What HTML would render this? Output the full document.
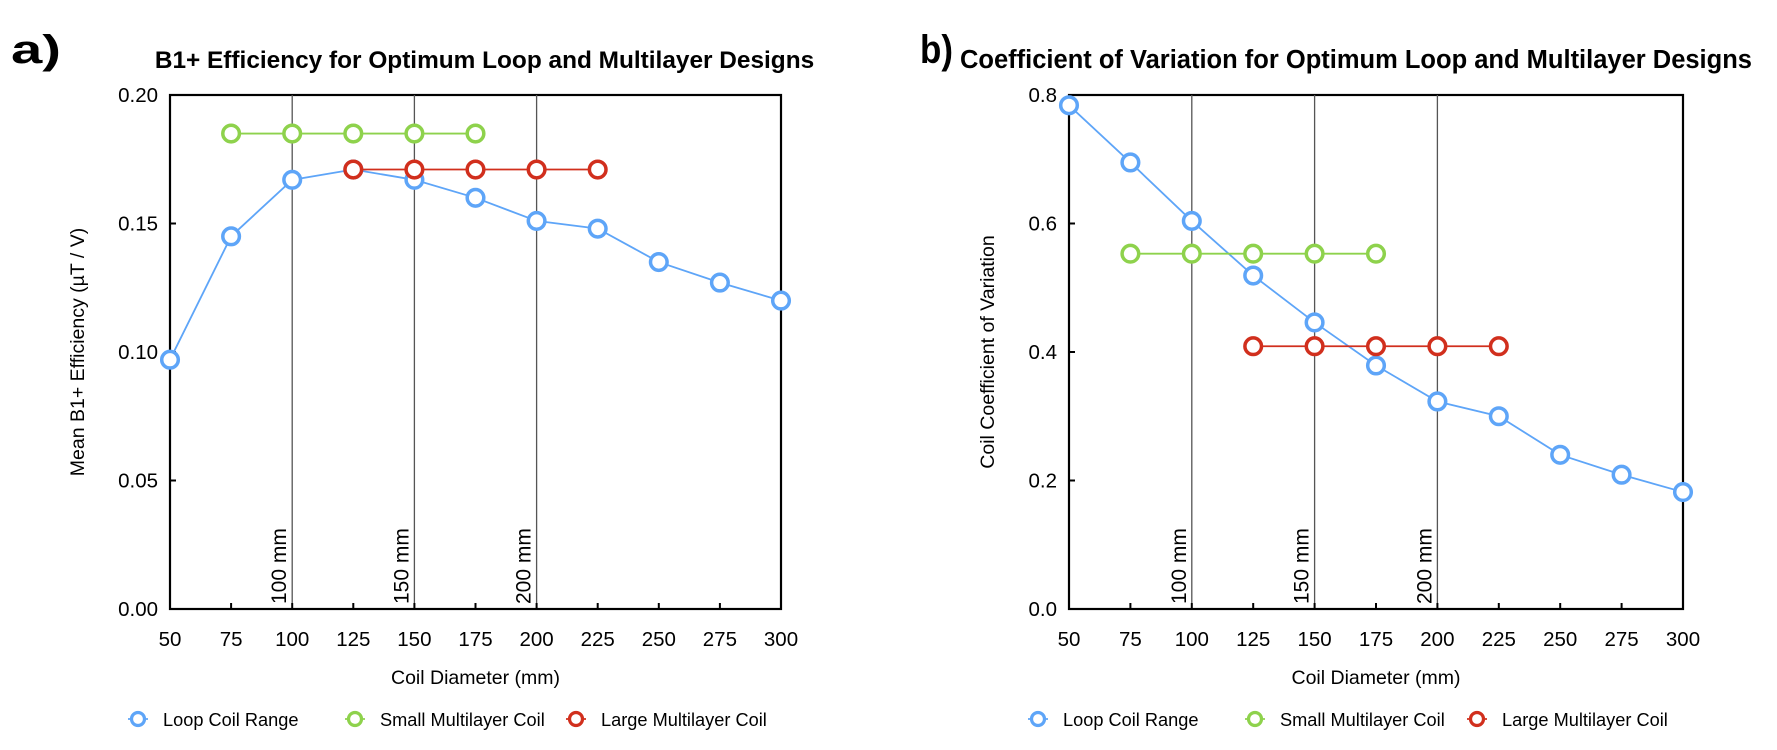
<!DOCTYPE html>
<html><head><meta charset="utf-8"><style>
html,body{margin:0;padding:0;background:#fff;}
svg{display:block;font-family:"Liberation Sans",Arial,sans-serif;}
</style></head><body>
<svg id="svg" width="1777" height="750" viewBox="0 0 1777 750" xmlns="http://www.w3.org/2000/svg">
<text x="11" y="63" font-size="40" font-weight="bold" textLength="50" lengthAdjust="spacingAndGlyphs">a)</text>
<text x="920" y="63" font-size="40" font-weight="bold" textLength="33" lengthAdjust="spacingAndGlyphs">b)</text>
</svg>
<script>
const xCats = [50,75,100,125,150,175,200,225,250,275,300];
const effLoop = [0.097,0.145,0.167,0.171,0.167,0.160,0.151,0.148,0.135,0.127,0.120];
const smallX = [75,100,125,150,175];
const effSmall = [0.185,0.185,0.185,0.185,0.185];
const largeX = [125,150,175,200,225];
const effLarge = [0.171,0.171,0.171,0.171,0.171];
const cvLoop = [0.784,0.695,0.604,0.519,0.446,0.379,0.323,0.300,0.240,0.209,0.182];
const cvSmall = [0.553,0.553,0.553,0.553,0.553];
const cvLarge = [0.409,0.409,0.409,0.409,0.409];
const yTicksA = [0,0.05,0.10,0.15,0.20];
const yTicksB = [0,0.2,0.4,0.6,0.8];
const refLines = [100,150,200];

const NS="http://www.w3.org/2000/svg";
const svg=document.getElementById('svg');
function mk(tag,attrs,parent){const e=document.createElementNS(NS,tag);for(const k in attrs)e.setAttribute(k,attrs[k]);(parent||svg).appendChild(e);return e;}

function chart(p){
  const g=mk('g',{});
  
  
  const L=p.x0,R=p.x1,T=95,B=609;
  const xs=v=>L+(v-50)/250*(R-L);
  const ys=v=>B-(v/p.ymax)*(B-T);
  const t=mk('text',{x:(L+R)/2+p.tdx,y:68,'font-size':p.tfs,'font-weight':'bold','text-anchor':'middle'},g);
  t.textContent=p.title;
  
  
  const fr=mk('rect',{x:L,y:T,width:R-L,height:B-T,fill:'none',stroke:'#000','stroke-width':2.2},g);
  
  
  refLines.forEach(r=>{
    const x=xs(r);
    const l=mk('line',{x1:x,y1:T,x2:x,y2:B,stroke:'#555','stroke-width':1.3},g);
    
    
    const lt=mk('text',{x:0,y:0,'font-size':21,transform:`translate(${x-6},${B-5}) rotate(-90)`},g);
    lt.textContent=r+' mm';
    
    
  });
  xCats.forEach(c=>{
    const x=xs(c);
    mk('line',{x1:x,y1:B,x2:x,y2:B-6,stroke:'#000','stroke-width':2},g);
    const tl=mk('text',{x:x,y:646,'font-size':20.5,'text-anchor':'middle'},g);
    tl.textContent=c;
    
    
  });
  p.yticks.forEach(v=>{
    const y=ys(v);
    mk('line',{x1:L,y1:y,x2:L+6,y2:y,stroke:'#000','stroke-width':2},g);
    const tl=mk('text',{x:L-12,y:y+7,'font-size':20.5,'text-anchor':'end'},g);
    tl.textContent=v.toFixed(p.dec);
    
    
  });
  const xt=mk('text',{x:(L+R)/2,y:684,'font-size':19.5,'text-anchor':'middle'},g);
  xt.textContent='Coil Diameter (mm)';
  
  
  const yt=mk('text',{x:0,y:0,'font-size':19.5,'text-anchor':'middle',transform:`translate(${p.ytx},${(T+B)/2}) rotate(-90)`},g);
  yt.textContent=p.ytitle;
  
  
  const series=[[xCats,p.loop,'#5ea5f8','loop-coil-series'],[smallX,p.small,'#8ed24c','small-multilayer-series'],[largeX,p.large,'#d12f1d','large-multilayer-series']];
  series.forEach(([xsArr,vals,col,nm])=>{
    const sg=mk('g',{},g);
    
    
    const pts=xsArr.map((c,i)=>xs(c)+','+ys(vals[i])).join(' ');
    mk('polyline',{points:pts,fill:'none',stroke:col,'stroke-width':1.8},sg);
    xsArr.forEach((c,i)=>{
      const m=mk('circle',{cx:xs(c),cy:ys(vals[i]),r:8.3,fill:'#fff',stroke:col,'stroke-width':3.5},sg);
      
      
    });
  });
  const leg=[['Loop Coil Range','#5ea5f8'],['Small Multilayer Coil','#8ed24c'],['Large Multilayer Coil','#d12f1d']];
  leg.forEach(([lab,col],i)=>{
    const lx=p.legX[i];
    const lg=mk('g',{},g);
    
    
    mk('line',{x1:lx-10,y1:719,x2:lx+10,y2:719,stroke:col,'stroke-width':1.8},lg);
    mk('circle',{cx:lx,cy:719,r:6.5,fill:'#fff',stroke:col,'stroke-width':3.2},lg);
    const lt=mk('text',{x:lx+25,y:726,'font-size':18.2},lg);
    lt.textContent=lab;
  });
}
chart({name:'efficiency-chart',x0:170,x1:781,ymax:0.20,yticks:yTicksA,dec:2,title:'B1+ Efficiency for Optimum Loop and Multilayer Designs',tfs:24.4,tdx:9,ytitle:'Mean B1+ Efficiency (µT / V)',ytx:84,loop:effLoop,small:effSmall,large:effLarge,legX:[138,355,576]});
chart({name:'cv-chart',x0:1069,x1:1683,ymax:0.8,yticks:yTicksB,dec:1,title:'Coefficient of Variation for Optimum Loop and Multilayer Designs',tfs:25.5,tdx:-20,ytitle:'Coil Coefficient of Variation',ytx:994,loop:cvLoop,small:cvSmall,large:cvLarge,legX:[1038,1255,1477]});
</script>
</body></html>
